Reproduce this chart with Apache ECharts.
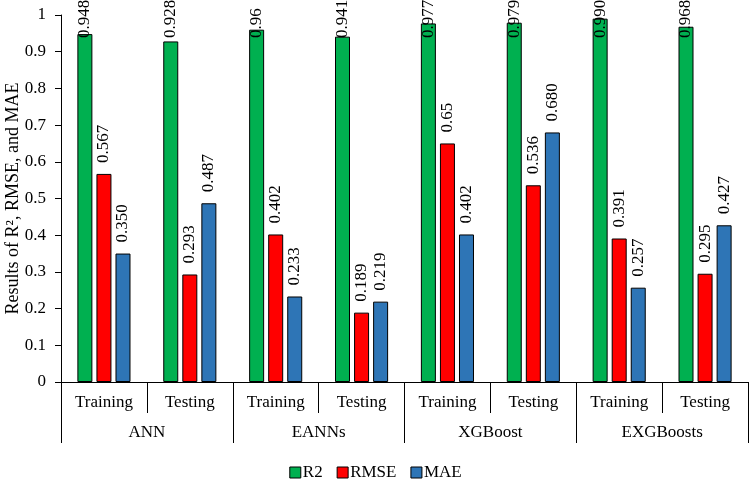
<!DOCTYPE html>
<html><head><meta charset="utf-8">
<script src="https://cdn.jsdelivr.net/npm/echarts@6/dist/echarts.min.js"></script>
<style>html,body{margin:0;padding:0;background:#fff}#c{width:751px;height:479px}</style>
</head><body><div id="c"></div>
<script>
const subCategories = ['Training','Testing','Training','Testing','Training','Testing','Training','Testing'];
const groups = ['ANN','EANNs','XGBoost','EXGBoosts'];
const r2 = [0.948, 0.928, 0.96, 0.941, 0.977, 0.979, 0.990, 0.968];
const rmse = [0.567, 0.293, 0.402, 0.189, 0.65, 0.536, 0.391, 0.295];
const mae = [0.350, 0.487, 0.233, 0.219, 0.402, 0.680, 0.257, 0.427];
const r2Labels = ['0.948','0.928','0.96','0.941','0.977','0.979','0.990','0.968'];
const rmseLabels = ['0.567','0.293','0.402','0.189','0.65','0.536','0.391','0.295'];
const maeLabels = ['0.350','0.487','0.233','0.219','0.402','0.680','0.257','0.427'];
const yTicks = {min: 0, max: 1, interval: 0.1};

const font = 'Liberation Serif, Times New Roman, serif';
const chart = echarts.init(document.getElementById('c'));
function mkSeries(name, data, labels, color) {
  return {
    name, type: 'bar', data, barWidth: 15, barGap: '27%', xAxisIndex: 0,
    itemStyle: {color, borderColor: '#000', borderWidth: 1},
    label: {
      show: true, position: 'top', rotate: 90, align: 'left', verticalAlign: 'middle',
      distance: 11, color: '#000', fontFamily: font, fontSize: 17,
      formatter: p => labels[p.dataIndex]
    },
    labelLayout: p => ({ y: Math.max(p.rect.y - 11, 38) })
  };
}
chart.setOption({
  animation: false,
  grid: {left: 61, right: 3, top: 15, bottom: 97, containLabel: false, outerBoundsMode: 'none'},
  legend: {
    top: 459, left: 'center', itemWidth: 11, itemHeight: 11, itemGap: 14,
    icon: 'rect',
    itemStyle: {borderColor: '#000', borderWidth: 1},
    textStyle: {fontFamily: font, fontSize: 17, color: '#000', padding: [0,0,0,-3]},
    data: ['R2','RMSE','MAE']
  },
  xAxis: [
    {type: 'category', data: subCategories, position: 'bottom',
     axisLine: {show: true, lineStyle: {color: '#000', width: 1}},
     axisTick: {show: true, interval: 0, length: 31, lineStyle: {color: '#000'}},
     axisLabel: {color: '#000', fontFamily: font, fontSize: 17, margin: 12, interval: 0}},
    {type: 'category', data: groups, position: 'bottom', offset: 31,
     axisLine: {show: false},
     axisTick: {show: true, interval: 0, length: 30, lineStyle: {color: '#000'}},
     axisLabel: {color: '#000', fontFamily: font, fontSize: 17, margin: 11, interval: 0}}
  ],
  yAxis: {
    type: 'value', min: yTicks.min, max: yTicks.max, interval: yTicks.interval,
    name: 'Results of R², RMSE, and MAE', nameLocation: 'middle', nameGap: 39,
    nameMoveOverlap: false,
    nameTextStyle: {color: '#000', fontFamily: font, fontSize: 18},
    axisLine: {show: true, lineStyle: {color: '#000'}},
    axisTick: {show: true, length: 6, lineStyle: {color: '#000'}},
    axisLabel: {color: '#000', fontFamily: font, fontSize: 17, margin: 15},
    splitLine: {show: false}
  },
  series: [
    mkSeries('R2', r2, r2Labels, '#00B050'),
    mkSeries('RMSE', rmse, rmseLabels, '#FF0000'),
    mkSeries('MAE', mae, maeLabels, '#2E75B6')
  ]
});
</script></body></html>
